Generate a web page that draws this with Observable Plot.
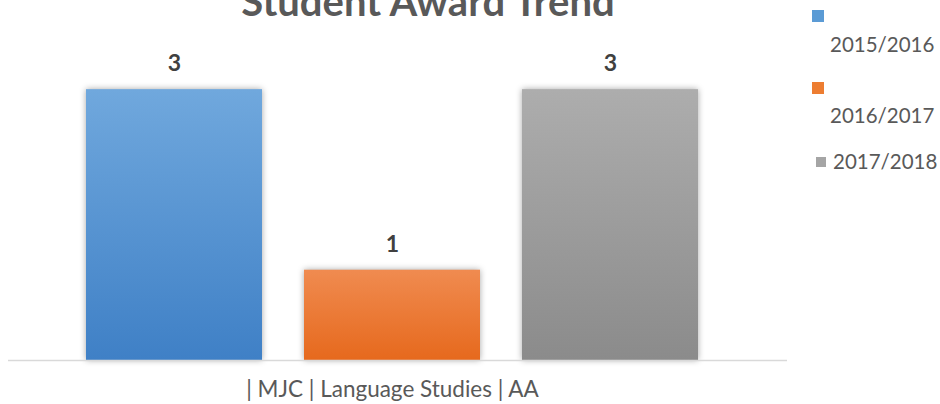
<!DOCTYPE html>
<html>
<head>
<meta charset="utf-8">
<script src="https://cdn.jsdelivr.net/npm/d3@7"></script>
<script src="https://cdn.jsdelivr.net/npm/@observablehq/plot@0.6"></script>
<style>
  html, body { margin: 0; padding: 0; background: #fff; }
  #wrap { position: relative; width: 940px; height: 404px; overflow: hidden; font-family: Lato, "Open Sans", sans-serif; }
  #wrap svg { position: absolute; left: 0; top: 0; }
  .lg-mark { position: absolute; }
  .lg-text { position: absolute; font-size: 20.5px; line-height: 24px; color: #595959; white-space: nowrap; }
</style>
</head>
<body>
<div id="wrap"></div>
<script>
// ---- data ----
const years = ["2015/2016", "2016/2017", "2017/2018"];
const awards = [3, 1, 3];
const titleText = "Student Award Trend";
const categoryLabel = "| MJC | Language Studies | AA";

// ---- styles ----
const gradTop = ["#70a8dd", "#f08b50", "#adadad"];
const gradBottom = ["#3f80c6", "#e6691d", "#8b8b8b"];
const legendColors = ["#5b9bd5", "#ed7d31", "#a5a5a5"];

const data = years.map((y, i) => ({ year: y, value: awards[i] }));

const chart = Plot.plot({
  width: 940,
  height: 404,
  marginLeft: 8,
  marginRight: 153,
  marginTop: 44,
  marginBottom: 44,
  style: { fontFamily: "Lato, 'Open Sans', sans-serif", background: "transparent" },
  x: { domain: years, range: [86, 698], paddingInner: 0.193, paddingOuter: 0, axis: null },
  y: { domain: [0, 3.5], axis: null },
  color: { type: "ordinal", domain: years, range: years.map((_, i) => `url(#barGrad${i})`) },
  marks: [
    Plot.barY(data, { x: "year", y: "value", fill: "year" }),
    Plot.ruleY([0], { stroke: "#d9d9d9", strokeWidth: 1.5 }),
    Plot.text(data, { x: "year", y: "value", text: d => String(d.value), dy: -26, fontSize: 23, fontWeight: "bold", fill: "#404040", lineAnchor: "middle" }),
    Plot.text([categoryLabel], { x: () => years[1], frameAnchor: "bottom", text: d => d, dy: 29, lineAnchor: "middle", fontSize: 22.5, fill: "#595959" }),
    Plot.text([titleText], { frameAnchor: "top", text: d => d, dx: 30, dy: -29, lineAnchor: "bottom", fontSize: 40, fontWeight: "bold", fill: "#595959" })
  ]
});

// gradients
const svg = d3.select(chart);
const defs = svg.insert("defs", ":first-child");
years.forEach((_, i) => {
  const g = defs.append("linearGradient").attr("id", `barGrad${i}`).attr("x1", 0).attr("y1", 0).attr("x2", 0).attr("y2", 1);
  g.append("stop").attr("offset", "0%").attr("stop-color", gradTop[i]);
  g.append("stop").attr("offset", "100%").attr("stop-color", gradBottom[i]);
});
chart.querySelectorAll("g[aria-label='bar'] rect").forEach(r => r.style.filter = "drop-shadow(0 0 3px rgba(0,0,0,0.35))");

const wrap = document.getElementById("wrap");
wrap.appendChild(chart);

// legend (HTML)
const legendLayout = [
  { mx: 812, my: 10, ms: 12, tx: 830, ty: 32 },
  { mx: 812, my: 82, ms: 12, tx: 830, ty: 103 },
  { mx: 816, my: 157, ms: 10, tx: 833, ty: 149 }
];
years.forEach((y, i) => {
  const L = legendLayout[i];
  const m = document.createElement("div");
  m.className = "lg-mark";
  Object.assign(m.style, { left: L.mx + "px", top: L.my + "px", width: L.ms + "px", height: L.ms + "px", background: legendColors[i] });
  wrap.appendChild(m);
  const t = document.createElement("div");
  t.className = "lg-text";
  t.textContent = y;
  Object.assign(t.style, { left: L.tx + "px", top: L.ty + "px" });
  wrap.appendChild(t);
});
</script>
</body>
</html>
